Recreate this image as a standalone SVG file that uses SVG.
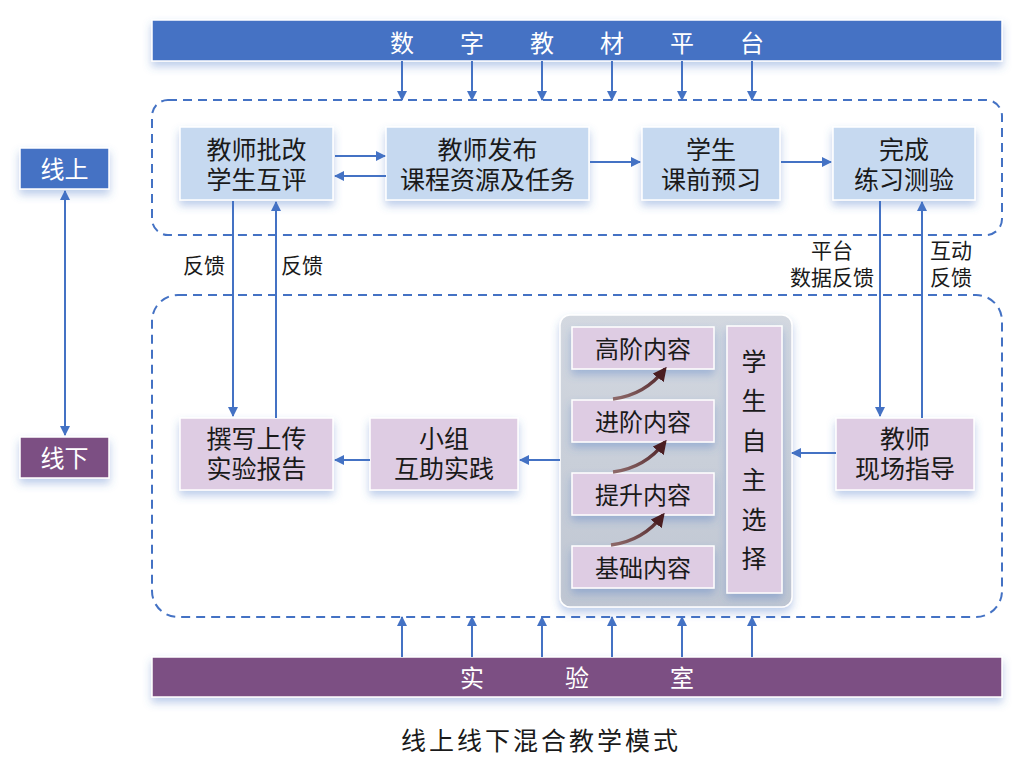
<svg xmlns="http://www.w3.org/2000/svg" width="1024" height="758" viewBox="0 0 1024 758">
<defs>
<style>
.t{font-family:"Noto Sans CJK SC","Noto Sans",sans-serif;fill:#1a1a1a;text-anchor:middle;dominant-baseline:central}
.tw{font-family:"Noto Sans CJK SC","Noto Sans",sans-serif;fill:#ffffff;text-anchor:middle;dominant-baseline:central}
.n{font-size:25px}
.l{font-size:21px}
.blue{fill:#C6D9F0;stroke:#ffffff;stroke-width:1.5}
.lav{fill:#DECCE3;stroke:#ffffff;stroke-width:1.5}
.dash{fill:none;stroke:#4472C4;stroke-width:2;stroke-dasharray:9 6}
.c{stroke:#4472C4;stroke-width:2;fill:none;marker-end:url(#ah)}
.cd{stroke:#4472C4;stroke-width:2;fill:none;marker-end:url(#ah);marker-start:url(#ahs)}
.cv{stroke:url(#brown);stroke-width:3.5;fill:none;marker-end:url(#bh)}
</style>
<marker id="ah" viewBox="0 0 10 10" refX="9" refY="5" markerWidth="10" markerHeight="10" markerUnits="userSpaceOnUse" orient="auto">
<path d="M0,0 L10,5 L0,10 z" fill="#4472C4"/>
</marker>
<marker id="ahs" viewBox="0 0 10 10" refX="1" refY="5" markerWidth="10" markerHeight="10" markerUnits="userSpaceOnUse" orient="auto">
<path d="M10,0 L0,5 L10,10 z" fill="#4472C4"/>
</marker>
<marker id="bh" viewBox="0 0 10 10" refX="8" refY="5" markerWidth="14" markerHeight="14" markerUnits="userSpaceOnUse" orient="auto">
<path d="M0,0 L10,5 L0,10 z" fill="#4A1E22"/>
</marker>
<linearGradient id="brown" x1="0" y1="1" x2="1" y2="0">
<stop offset="0" stop-color="#8E6A6A"/>
<stop offset="1" stop-color="#4A1E22"/>
</linearGradient>
<linearGradient id="panel" x1="0" y1="0" x2="0" y2="1">
<stop offset="0" stop-color="#D3D8E0"/>
<stop offset="1" stop-color="#BFC6D2"/>
</linearGradient>
<filter id="sh" x="-20%" y="-20%" width="140%" height="160%">
<feDropShadow dx="0" dy="5" stdDeviation="4" flood-color="#4472C4" flood-opacity="0.35"/>
</filter>
</defs>
<rect width="1024" height="758" fill="#ffffff"/>

<g id="platform">
<rect x="152" y="20" width="850" height="41" fill="#4472C4" stroke="#ffffff" stroke-width="1.5" filter="url(#sh)"/>
<text class="tw" y="41" font-size="24"><tspan x="402">数</tspan><tspan x="472">字</tspan><tspan x="542">教</tspan><tspan x="612">材</tspan><tspan x="682">平</tspan><tspan x="752">台</tspan></text>
</g>

<g id="lab">
<rect x="152" y="657" width="850" height="40" fill="#7B5083" stroke="#ffffff" stroke-width="1.5" filter="url(#sh)"/>
<text class="tw" y="676" font-size="24"><tspan x="472">实</tspan><tspan x="577">验</tspan><tspan x="682">室</tspan></text>
</g>

<g id="online-area"><rect class="dash" x="152" y="100" width="850" height="135" rx="16"/></g>
<g id="offline-area"><rect class="dash" x="152" y="295" width="850" height="322" rx="26"/></g>

<g id="online-label">
<rect x="20" y="148" width="89" height="41" fill="#4472C4" stroke="#ffffff" stroke-width="1.5" filter="url(#sh)"/>
<text class="tw" x="64.5" y="167" font-size="24">线上</text>
</g>
<g id="offline-label">
<rect x="20" y="437" width="89" height="41" fill="#7B5083" stroke="#ffffff" stroke-width="1.5" filter="url(#sh)"/>
<text class="tw" x="64.5" y="456" font-size="24">线下</text>
</g>

<g id="n-review">
<rect class="blue" x="180" y="127" width="153" height="73" filter="url(#sh)"/>
<text class="t n"><tspan x="256.5" y="148">教师批改</tspan><tspan x="256.5" y="178">学生互评</tspan></text>
</g>
<g id="n-publish">
<rect class="blue" x="386" y="127" width="203" height="73" filter="url(#sh)"/>
<text class="t n"><tspan x="487.5" y="148">教师发布</tspan><tspan x="487.5" y="178">课程资源及任务</tspan></text>
</g>
<g id="n-preview">
<rect class="blue" x="642" y="127" width="138" height="73" filter="url(#sh)"/>
<text class="t n"><tspan x="711" y="148">学生</tspan><tspan x="711" y="178">课前预习</tspan></text>
</g>
<g id="n-test">
<rect class="blue" x="833" y="127" width="142" height="73" filter="url(#sh)"/>
<text class="t n"><tspan x="904" y="148">完成</tspan><tspan x="904" y="178">练习测验</tspan></text>
</g>

<g id="n-report">
<rect class="lav" x="180" y="418" width="153" height="72" filter="url(#sh)"/>
<text class="t n"><tspan x="256.5" y="437">撰写上传</tspan><tspan x="256.5" y="467">实验报告</tspan></text>
</g>
<g id="n-group">
<rect class="lav" x="370" y="418" width="148" height="72" filter="url(#sh)"/>
<text class="t n"><tspan x="444" y="437">小组</tspan><tspan x="444" y="467">互助实践</tspan></text>
</g>
<g id="n-guide">
<rect class="lav" x="836" y="418" width="138" height="72" filter="url(#sh)"/>
<text class="t n"><tspan x="905" y="437">教师</tspan><tspan x="905" y="467">现场指导</tspan></text>
</g>

<g id="n-panel">
<rect x="560" y="315" width="232" height="292" rx="10" fill="url(#panel)" stroke="#ffffff" stroke-width="1.5" filter="url(#sh)"/>
</g>
<g id="n-high">
<rect class="lav" x="572" y="327" width="142" height="42" filter="url(#sh)"/>
<text class="t" x="643" y="347" font-size="24">高阶内容</text>
</g>
<g id="n-adv">
<rect class="lav" x="572" y="400" width="142" height="42" filter="url(#sh)"/>
<text class="t" x="643" y="420" font-size="24">进阶内容</text>
</g>
<g id="n-up">
<rect class="lav" x="572" y="473" width="142" height="42" filter="url(#sh)"/>
<text class="t" x="643" y="493" font-size="24">提升内容</text>
</g>
<g id="n-base">
<rect class="lav" x="572" y="546" width="142" height="42" filter="url(#sh)"/>
<text class="t" x="643" y="566" font-size="24">基础内容</text>
</g>
<g id="n-choose">
<rect class="lav" x="727" y="326" width="55" height="267" filter="url(#sh)"/>
<text class="t" x="754" font-size="25"><tspan x="754" y="360">学</tspan><tspan x="754" y="399">生</tspan><tspan x="754" y="439">自</tspan><tspan x="754" y="478">主</tspan><tspan x="754" y="518">选</tspan><tspan x="754" y="557">择</tspan></text>
</g>

<g id="labels">
<text class="t l" x="204" y="264">反馈</text>
<text class="t l" x="302" y="264">反馈</text>
<text class="t l"><tspan x="832" y="249">平台</tspan><tspan x="832" y="276">数据反馈</tspan></text>
<text class="t l"><tspan x="951" y="249">互动</tspan><tspan x="951" y="276">反馈</tspan></text>
</g>

<g id="connectors">
<line class="c" x1="402" y1="61" x2="402" y2="100"/>
<line class="c" x1="472" y1="61" x2="472" y2="100"/>
<line class="c" x1="542" y1="61" x2="542" y2="100"/>
<line class="c" x1="612" y1="61" x2="612" y2="100"/>
<line class="c" x1="682" y1="61" x2="682" y2="100"/>
<line class="c" x1="752" y1="61" x2="752" y2="100"/>
<line class="c" x1="402" y1="657" x2="402" y2="617"/>
<line class="c" x1="472" y1="657" x2="472" y2="617"/>
<line class="c" x1="542" y1="657" x2="542" y2="617"/>
<line class="c" x1="612" y1="657" x2="612" y2="617"/>
<line class="c" x1="682" y1="657" x2="682" y2="617"/>
<line class="c" x1="752" y1="657" x2="752" y2="617"/>
<line class="cd" x1="65" y1="191" x2="65" y2="435"/>
<line class="c" x1="335" y1="156" x2="385" y2="156"/>
<line class="c" x1="386" y1="176" x2="335" y2="176"/>
<line class="c" x1="590" y1="162" x2="640" y2="162"/>
<line class="c" x1="781" y1="162" x2="831" y2="162"/>
<line class="c" x1="233" y1="201" x2="233" y2="416"/>
<line class="c" x1="276" y1="418" x2="276" y2="202"/>
<line class="c" x1="880" y1="201" x2="880" y2="416"/>
<line class="c" x1="922" y1="418" x2="922" y2="202"/>
<line class="c" x1="370" y1="460" x2="335" y2="460"/>
<line class="c" x1="560" y1="460" x2="520" y2="460"/>
<line class="c" x1="836" y1="453" x2="792" y2="453"/>
<path class="cv" d="M613,399 Q645,395 665,369"/>
<path class="cv" d="M613,472 Q645,468 665,442"/>
<path class="cv" d="M611,545 Q643,541 663,515"/>
</g>

<g id="caption">
<text x="541" y="739" font-family="Noto Sans CJK SC, sans-serif" font-size="25" fill="#1a1a1a" text-anchor="middle" dominant-baseline="central" letter-spacing="3">线上线下混合教学模式</text>
</g>
</svg>
